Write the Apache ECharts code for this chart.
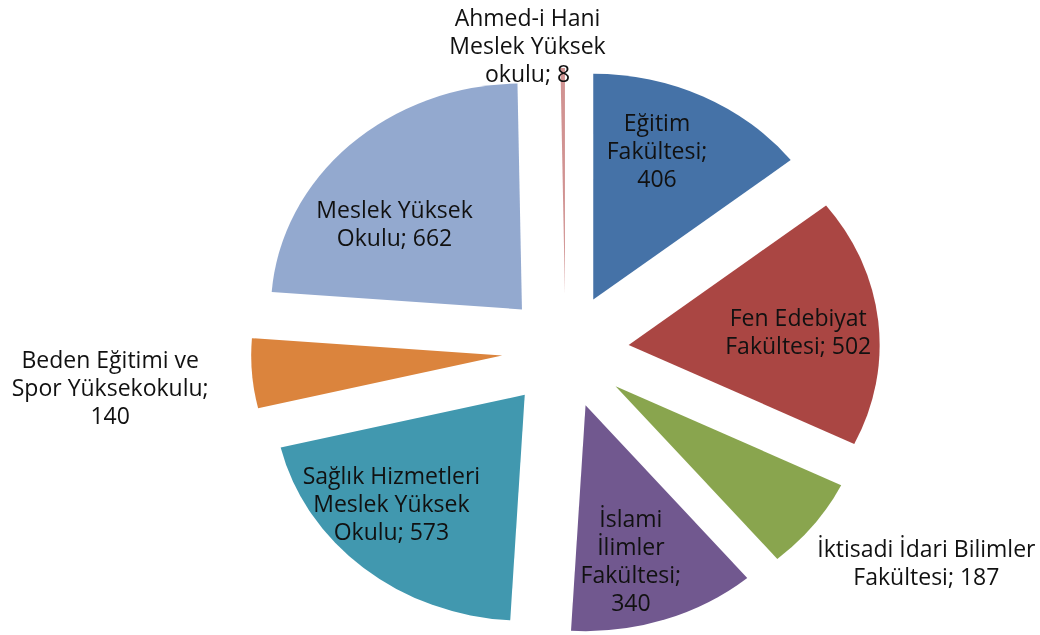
<!DOCTYPE html>
<html>
<head>
<meta charset="utf-8">
<script src="https://cdn.jsdelivr.net/npm/echarts@6/dist/echarts.min.js"></script>
<style>
    html, body { margin: 0; padding: 0; background: #fff; }
    #wrap { position: relative; width: 1040px; height: 635px; overflow: hidden; }
    /* the reference pie is squashed vertically, so the slices are drawn in a taller box and scaled down */
    #pie { position: absolute; left: 0; top: 0; width: 1040px; height: 706px; transform: scaleY(0.9); transform-origin: 0 0; }
    #labels { position: absolute; left: 0; top: 0; width: 1040px; height: 635px; }
</style>
</head>
<body>
<div id="wrap">
    <div id="pie"></div>
    <div id="labels"></div>
</div>
<script>
    const categories = [
        'Eğitim Fakültesi',
        'Fen Edebiyat Fakültesi',
        'İktisadi İdari Bilimler Fakültesi',
        'İslami İlimler Fakültesi',
        'Sağlık Hizmetleri Meslek Yüksek Okulu',
        'Beden Eğitimi ve Spor Yüksekokulu',
        'Meslek Yüksek Okulu',
        'Ahmed-i Hani Meslek Yüksek okulu'
    ];
    const values = [406, 502, 187, 340, 573, 140, 662, 8];
    // how each label is wrapped, {v} is the value
    const labelTemplates = [
        'Eğitim\nFakültesi;\n{v}',
        'Fen Edebiyat\nFakültesi; {v}',
        'İktisadi İdari Bilimler\nFakültesi; {v}',
        'İslami\nİlimler\nFakültesi;\n{v}',
        'Sağlık Hizmetleri\nMeslek Yüksek\nOkulu; {v}',
        'Beden Eğitimi ve\nSpor Yüksekokulu;\n{v}',
        'Meslek Yüksek\nOkulu; {v}',
        'Ahmed-i Hani\nMeslek Yüksek\nokulu; {v}'
    ];
    const colors = ['#4572A7', '#AA4643', '#89A54E', '#71588F', '#4198AF', '#DB843D', '#93A9CF', '#D19392'];
    // small nudges so the labels sit where Excel put them
    const labelNudge = [[-6, 2], [11, 6], [185, 76], [-5, 0], [-31, -17], [-233, 21], [-18, 37], [-36, -81]];

    const pieChart = echarts.init(document.getElementById('pie'), null, { renderer: 'svg' });
    pieChart.setOption({
        animation: false,
        color: colors,
        series: [{
            type: 'pie',
            center: [565.5, 390],
            radius: 251,
            startAngle: 90,
            clockwise: true,
            selectedMode: 'multiple',
            selectedOffset: 63.5,
            label: { show: false },
            labelLine: { show: false },
            emphasis: { disabled: true },
            itemStyle: { borderWidth: 0 },
            data: categories.map((name, i) => ({ name: name, value: values[i], selected: true }))
        }]
    });

    // labels are drawn unscaled on top, from a transparent pie with the same angles
    const labelChart = echarts.init(document.getElementById('labels'));
    labelChart.setOption({
        animation: false,
        series: [{
            type: 'pie',
            center: [565.5, 351],
            radius: 440,
            startAngle: 90,
            clockwise: true,
            silent: true,
            itemStyle: { color: 'rgba(0,0,0,0)', borderWidth: 0 },
            labelLine: { show: false },
            emphasis: { disabled: true },
            data: categories.map((name, i) => ({
                name: name,
                value: values[i],
                label: { offset: labelNudge[i] }
            })),
            label: {
                show: true,
                position: 'inside',
                color: '#111',
                fontFamily: 'Open Sans',
                fontSize: 23,
                lineHeight: 28,
                align: 'center',
                formatter: p => labelTemplates[p.dataIndex].replace('{v}', p.value)
            }
        }]
    });
</script>
</body>
</html>
